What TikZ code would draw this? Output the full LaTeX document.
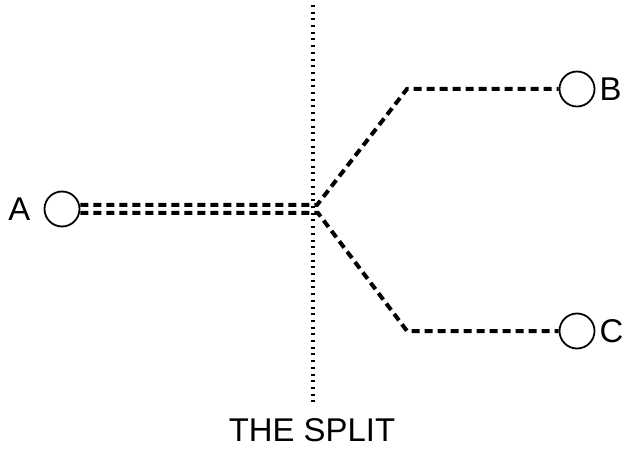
\documentclass[tikz,border=0pt]{standalone}
\usepackage{fontspec}
\setmainfont{Liberation Sans}
\usetikzlibrary{positioning}

\begin{document}
\begin{tikzpicture}[x=1bp,y=-1bp,
  port/.style={circle,draw,line width=1.8bp,minimum size=35bp,inner sep=0pt},
  lbl/.style={font=\fontsize{33}{38}\selectfont,inner sep=0pt},
  route/.style={line width=4bp,dash pattern=on 8bp off 5bp}]
\useasboundingbox (0,0) rectangle (624,450);
% the split line
\coordinate (top) at (313,5);
\coordinate (bot) at (313,406);
\draw[line width=4.5bp,dash pattern=on 2bp off 4.7bp] (top) -- (bot);
\node[lbl] (title) at (312,430) {THE SPLIT};
% ports
\node[port] (A) at (62,209) {};
\node[port] (B) at (577,89) {};
\node[port] (C) at (577,331) {};
\node[lbl,left=13bp of A] (la) {A};
\node[lbl,right=4bp of B] (lb) {B};
\node[lbl,right=4bp of C] (lc) {C};
% routes
\coordinate (su) at (317,205);
\coordinate (sl) at (318,213);
\coordinate (bu) at (407,89);
\coordinate (bl) at (407,331);
\draw[route] (A.east |- su) -- (su) -- (bu) -- (B.west);
\draw[route] (A.east |- sl) -- (sl) -- (bl) -- (C.west);
\end{tikzpicture}
\end{document}
